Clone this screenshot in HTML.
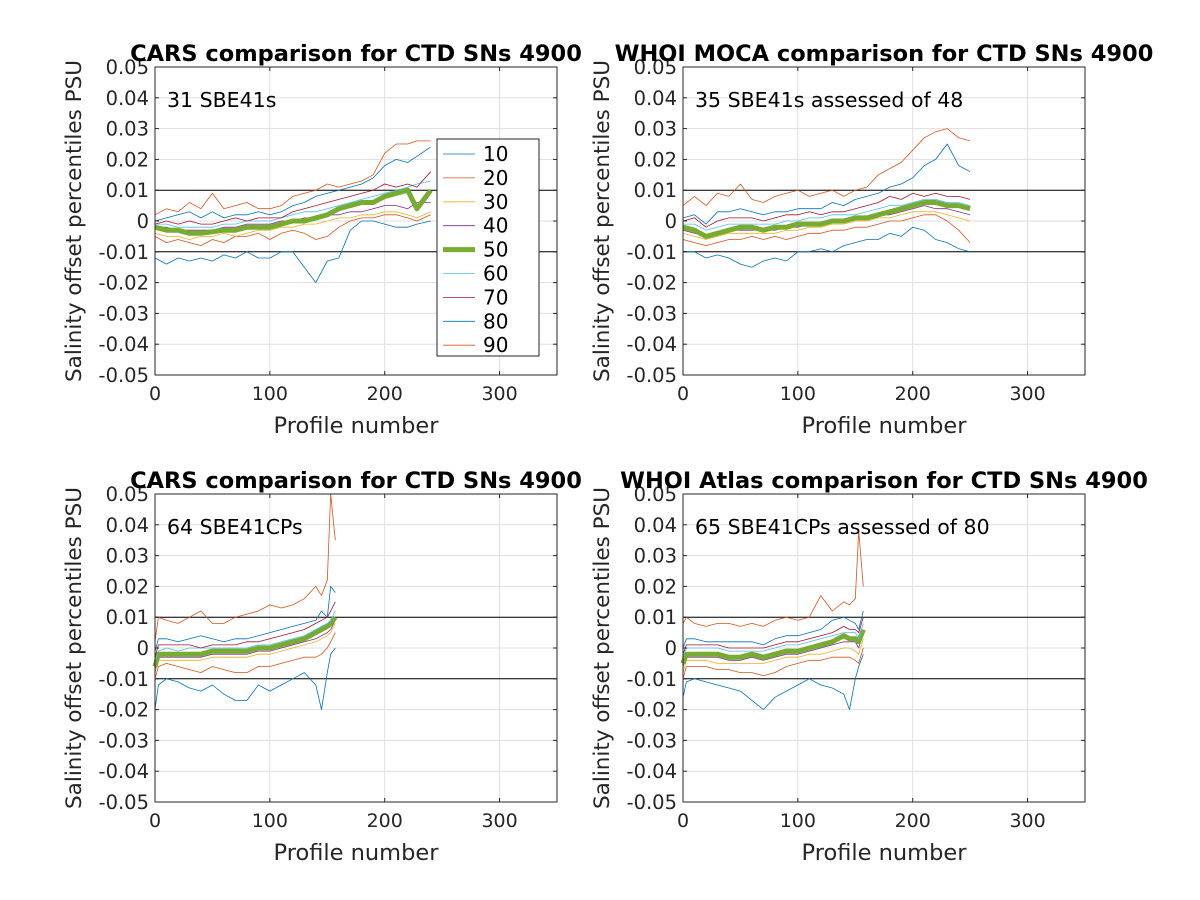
<!DOCTYPE html>
<html><head><meta charset="utf-8">
<style>
html,body{margin:0;padding:0;background:#fff;}
svg{display:block;font-family:"DejaVu Sans","Liberation Sans",sans-serif;}
</style></head>
<body>
<svg id="fig" width="1200" height="900" viewBox="0 0 1200 900"></svg>
<script>
// ---- data (values in 0.001 PSU) ----
const pctLabels = [10,20,30,40,50,60,70,80,90];
const pctColors = ["#0072BD","#D95319","#EDB120","#7E2F8E","#77AC30","#4DBEEE","#A2142F","#0072BD","#D95319"];
const xTicks = [0,100,200,300];
const yTicks = [-0.05,-0.04,-0.03,-0.02,-0.01,0,0.01,0.02,0.03,0.04,0.05];
const yTickLabels = ["-0.05","-0.04","-0.03","-0.02","-0.01","0","0.01","0.02","0.03","0.04","0.05"];

const p1x = [0,10,20,30,40,50,60,70,80,90,100,110,120,130,140,150,160,170,180,190,200,210,220,228,240];
const p1s10 = [-12,-14,-12,-13,-12,-13,-11,-12,-10,-12,-12,-10,-10,-15,-20,-13,-12,-3,0,0,-1,-2,-2,-1,0];
const p1s20 = [-5,-7,-6,-7,-8,-6,-7,-5,-5,-4,-6,-4,-3,-4,-6,-5,-2,0,1,1,2,2,1,0,2];
const p1s30 = [-4,-5,-5,-6,-5,-5,-4,-5,-4,-3,-3,-2,-2,-1,-1,0,1,1,2,2,3,3,2,1,3];
const p1s40 = [-2,-2,-3,-3,-3,-3,-2,-2,-1,-1,-1,0,0,1,1,2,2,3,3,4,5,5,4,6,6];
const p1s50 = [-2,-3,-3,-4,-4,-3.5,-3,-3,-2,-2,-2,-1,0,0,1,2,4,5,6,6,8,9,10,4,10];
const p1s60 = [-1,-1,-2,-2,-2,-2,-1,-1,0,0,0,1,2,3,3,4,5,6,7,8,9,10,11,12,13];
const p1s70 = [-1,0,-1,0,-1,-1,0,1,0,1,1,1,3,4,5,6,7,8,9,10,12,11,12,11,16];
const p1s80 = [0,1,2,3,1,3,1,2,2,3,2,3,5,6,8,9,10,11,12,14,18,20,19,21,24];
const p1s90 = [2,4,3,6,4,9,4,5,6,4,4,5,8,9,10,12,11,12,13,15,22,25,25,26,26];

const p2x = [0,10,20,30,40,50,60,70,80,90,100,110,120,130,140,150,160,170,180,190,200,210,220,230,240,250];
const p2s10 = [-10,-10,-12,-11,-12,-14,-15,-13,-12,-13,-10,-10,-9,-10,-8,-7,-6,-6,-4,-5,-2,-3,-6,-7,-9,-10];
const p2s20 = [-6,-7,-8,-7,-6,-6,-5,-6,-5,-6,-5,-4,-4,-3,-3,-2,-2,-1,0,0,1,2,2,0,-3,-7];
const p2s30 = [-4,-5,-6,-5,-4,-4,-4,-4,-4,-3,-3,-2,-2,-1,-1,0,0,1,1,2,3,3,3,2,1,0];
const p2s40 = [-3,-4,-5,-4,-3,-3,-3,-3,-3,-2,-2,-1,-1,0,0,1,1,2,2,3,4,5,4,4,3,2];
const p2s50 = [-2,-3,-5,-4,-3,-2,-2,-3,-2,-2,-1,-1,-1,0,0,1,1,2,3,4,5,6,6,5,5,4];
const p2s60 = [-1,-1,-3,-2,-1,-1,-1,-1,-1,0,0,1,1,2,2,2,3,4,5,5,6,7,7,6,6,5];
const p2s70 = [0,1,-2,0,1,1,1,0,1,2,2,3,2,3,3,4,5,6,8,7,9,8,9,8,8,7];
const p2s80 = [1,2,-1,3,3,4,3,2,3,3,4,4,4,6,5,7,8,9,11,12,14,18,20,25,18,16];
const p2s90 = [5,8,5,9,8,12,7,6,8,9,10,8,9,10,8,10,11,15,17,19,23,27,29,30,27,26];

const p3x = [0,3,10,20,30,40,50,60,70,80,90,100,110,120,130,140,145,150,153,157];
const p3s10 = [-20,-12,-10,-11,-13,-14,-12,-15,-17,-17,-12,-14,-12,-10,-8,-12,-20,-8,-2,0];
const p3s20 = [-10,-6,-5,-6,-7,-8,-6,-7,-8,-8,-6,-6,-5,-4,-3,-3,-2,0,2,5];
const p3s30 = [-8,-4,-4,-4,-4,-4,-3,-3,-3,-3,-2,-2,-1,0,1,2,3,4,5,8];
const p3s40 = [-7,-3,-3,-3,-3,-3,-2,-2,-2,-2,-1,-1,0,1,2,3,4,5,6,9];
const p3s50 = [-6,-2,-2,-2,-2,-2,-1,-1,-1,-1,0,0,1,2,3,5,6,7,8,10];
const p3s60 = [-4,-1,0,-1,0,0,0,0,0,0,1,1,2,3,4,6,7,8,9,12];
const p3s70 = [-3,1,1,1,1,0,1,1,1,2,2,3,4,5,6,8,9,10,12,15];
const p3s80 = [-1,3,3,2,3,4,3,2,3,3,4,5,6,7,8,9,12,10,20,18];
const p3s90 = [2,10,9,8,10,12,8,8,10,11,12,14,13,14,16,20,17,22,50,35];

const p4x = [0,3,10,20,30,40,50,60,70,80,90,100,110,120,130,140,145,150,153,157];
const p4s10 = [-16,-11,-10,-11,-12,-13,-14,-17,-20,-16,-14,-12,-10,-12,-13,-15,-20,-10,-6,-2];
const p4s20 = [-10,-6,-6,-6,-7,-7,-8,-8,-9,-8,-6,-5,-4,-4,-3,-3,-3,-4,-5,0];
const p4s30 = [-8,-4,-4,-4,-5,-5,-5,-5,-5,-4,-3,-3,-2,-2,-1,0,0,-1,-2,3];
const p4s40 = [-6,-3,-3,-3,-3,-4,-4,-3,-4,-3,-2,-2,-1,0,1,2,2,2,0,5];
const p4s50 = [-5,-2,-2,-2,-2,-3,-3,-2,-3,-2,-1,-1,0,1,2,4,3,3,2,6];
const p4s60 = [-3,0,0,0,0,-1,-1,-1,-1,0,1,1,2,3,4,5,5,5,3,8];
const p4s70 = [-2,1,1,1,1,0,0,0,0,1,2,2,3,4,5,7,6,6,5,10];
const p4s80 = [0,3,3,2,2,2,2,2,1,3,4,4,5,6,9,10,9,8,6,12];
const p4s90 = [8,10,8,7,8,8,7,8,7,9,10,9,10,17,12,15,14,16,38,20];

const panels = [
 {title:"CARS comparison for CTD SNs 4900", note:"31 SBE41s", left:155, top:67, x:p1x, s:[p1s10,p1s20,p1s30,p1s40,p1s50,p1s60,p1s70,p1s80,p1s90], legend:true},
 {title:"WHOI MOCA comparison for CTD SNs 4900", note:"35 SBE41s assessed of 48", left:683, top:67, x:p2x, s:[p2s10,p2s20,p2s30,p2s40,p2s50,p2s60,p2s70,p2s80,p2s90]},
 {title:"CARS comparison for CTD SNs 4900", note:"64 SBE41CPs", left:155, top:494, x:p3x, s:[p3s10,p3s20,p3s30,p3s40,p3s50,p3s60,p3s70,p3s80,p3s90]},
 {title:"WHOI Atlas comparison for CTD SNs 4900", note:"65 SBE41CPs assessed of 80", left:683, top:494, x:p4x, s:[p4s10,p4s20,p4s30,p4s40,p4s50,p4s60,p4s70,p4s80,p4s90]}
];

const NS="http://www.w3.org/2000/svg";
const svg=document.getElementById('fig');
function mk(tag,attrs,parent,text){const e=document.createElementNS(NS,tag);for(const k in attrs)e.setAttribute(k,attrs[k]);if(text!==undefined)e.textContent=text;(parent||svg).appendChild(e);return e;}

const W=402, H=308;
panels.forEach((p,pi)=>{
  const g=mk('g',{});
  
  
  const sx=v=>p.left+v/350*W;
  const sy=v=>p.top+(0.05-v)/0.1*H;
  mk('rect',{x:p.left,y:p.top,width:W,height:H,fill:'#fff'},g);
  xTicks.forEach(t=>{const l=mk('line',{x1:sx(t),x2:sx(t),y1:p.top,y2:p.top+H,stroke:'#dfdfdf','stroke-width':1},g);});
  yTicks.forEach(t=>{const l=mk('line',{x1:p.left,x2:p.left+W,y1:sy(t),y2:sy(t),stroke:'#dfdfdf','stroke-width':1},g);});
  [0.01,-0.01].forEach(v=>{const l=mk('line',{x1:p.left,x2:p.left+W,y1:sy(v),y2:sy(v),stroke:'#000','stroke-width':1},g);});
  p.s.forEach((arr,si)=>{
    const d=arr.map((v,i)=>(i?'L':'M')+sx(p.x[i]).toFixed(1)+','+sy(v/1000).toFixed(1)).join('');
    const isMed=pctLabels[si]===50;
    const path=mk('path',{d:d,fill:'none',stroke:pctColors[si],'stroke-width':isMed?5:0.8,'stroke-linejoin':'round'},g);
    
    
  });
  mk('rect',{x:p.left,y:p.top,width:W,height:H,fill:'none',stroke:'#262626','stroke-width':1},g);
  xTicks.forEach(t=>{
    mk('line',{x1:sx(t),x2:sx(t),y1:p.top+H,y2:p.top+H-4,stroke:'#262626'},g);
    mk('line',{x1:sx(t),x2:sx(t),y1:p.top,y2:p.top+4,stroke:'#262626'},g);
    const tx=mk('text',{x:sx(t),y:p.top+H+25,'font-size':19,fill:'#262626','text-anchor':'middle'},g,String(t));
    
  });
  yTicks.forEach((t,i)=>{
    mk('line',{x1:p.left,x2:p.left+4,y1:sy(t),y2:sy(t),stroke:'#262626'},g);
    mk('line',{x1:p.left+W,x2:p.left+W-4,y1:sy(t),y2:sy(t),stroke:'#262626'},g);
    const tx=mk('text',{x:p.left-6,y:sy(t)+7,'font-size':19.5,fill:'#262626','text-anchor':'end'},g,yTickLabels[i]);
    
  });
  const ti=mk('text',{x:p.left+W/2,y:p.top-6,'font-size':22.5,'font-weight':'bold',fill:'#000','text-anchor':'middle'},g,p.title);
  
  const xl=mk('text',{x:p.left+W/2,y:p.top+H+58,'font-size':22.5,fill:'#262626','text-anchor':'middle'},g,'Profile number');
  
  const yl=mk('text',{x:0,y:0,'font-size':21.5,fill:'#262626','text-anchor':'middle',transform:'translate('+(p.left-74)+','+(p.top+H/2)+') rotate(-90)'},g,'Salinity offset percentiles PSU');
  
  const nt=mk('text',{x:p.left+12,y:p.top+40,'font-size':20.5,fill:'#000'},g,p.note);
  
  if(p.legend){
    const lg=mk('g',{},g);
    
    
    mk('rect',{x:437,y:139,width:102,height:217,fill:'#fff',stroke:'#262626','stroke-width':1},lg);
    pctLabels.forEach((lab,i)=>{
      const y=154+i*23.9;
      const e=mk('g',{},lg);
      
      
      mk('line',{x1:443,x2:475,y1:y,y2:y,stroke:pctColors[i],'stroke-width':lab===50?5:0.8},e);
      mk('text',{x:483,y:y+7,'font-size':20,fill:'#000'},e,String(lab));
    });
  }
});
</script>
</body></html>
